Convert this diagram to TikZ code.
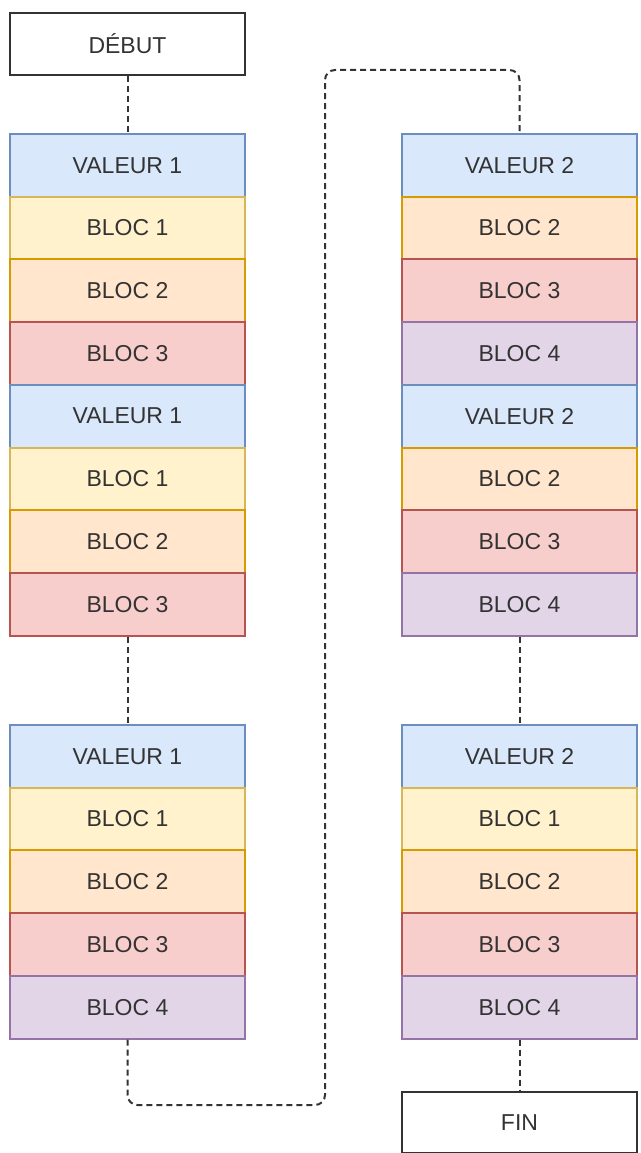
\documentclass[tikz,border=0pt]{standalone}
\usepackage{fontspec}
\setmainfont{Liberation Sans}
\definecolor{blueF}{HTML}{DAE8FC}\definecolor{blueD}{HTML}{6C8EBF}
\definecolor{yelF}{HTML}{FFF2CC}\definecolor{yelD}{HTML}{D6B656}
\definecolor{orgF}{HTML}{FFE6CC}\definecolor{orgD}{HTML}{D79B00}
\definecolor{redF}{HTML}{F8CECC}\definecolor{redD}{HTML}{B85450}
\definecolor{purF}{HTML}{E1D5E7}\definecolor{purD}{HTML}{9673A6}
\definecolor{ink}{HTML}{333333}
\tikzset{
  cell/.style={draw, line width=2pt, minimum width=235pt, minimum height=62.7pt,
    inner sep=0pt, text=ink, font=\fontsize{23}{26}\selectfont, anchor=north},
  valeur/.style={cell, fill=blueF, draw=blueD},
  blocA/.style={cell, fill=yelF, draw=yelD},
  blocB/.style={cell, fill=orgF, draw=orgD},
  blocC/.style={cell, fill=redF, draw=redD},
  blocD/.style={cell, fill=purF, draw=purD},
  term/.style={cell, fill=white, draw=ink, minimum height=62pt},
  link/.style={draw=ink, line width=2pt, dash pattern=on 6pt off 4pt}
}
\begin{document}
\begin{tikzpicture}[x=1pt,y=-1pt]
\useasboundingbox (0,0) rectangle (640,1153);
% start / end
\node[term] (debut) at (127.5,12) {DÉBUT};
\node[term, minimum height=60.5pt] (fin) at (519.5,1091) {FIN};
% left column, upper stack
\foreach \s/\t [count=\i] in {valeur/VALEUR 1,blocA/BLOC 1,blocB/BLOC 2,blocC/BLOC 3,
                              valeur/VALEUR 1,blocA/BLOC 1,blocB/BLOC 2,blocC/BLOC 3}
  \node[\s] (la\i) at (127.5,{133+62.7*(\i-1)}) {\t};
% left column, lower stack
\foreach \s/\t [count=\i] in {valeur/VALEUR 1,blocA/BLOC 1,blocB/BLOC 2,blocC/BLOC 3,blocD/BLOC 4}
  \node[\s] (lb\i) at (127.5,{724+62.7*(\i-1)}) {\t};
% right column, upper stack
\foreach \s/\t [count=\i] in {valeur/VALEUR 2,blocB/BLOC 2,blocC/BLOC 3,blocD/BLOC 4,
                              valeur/VALEUR 2,blocB/BLOC 2,blocC/BLOC 3,blocD/BLOC 4}
  \node[\s] (ra\i) at (519.5,{133+62.7*(\i-1)}) {\t};
% right column, lower stack
\foreach \s/\t [count=\i] in {valeur/VALEUR 2,blocA/BLOC 1,blocB/BLOC 2,blocC/BLOC 3,blocD/BLOC 4}
  \node[\s] (rb\i) at (519.5,{724+62.7*(\i-1)}) {\t};
% connectors
\coordinate (turnlow) at (325,1105);
\coordinate (turnhigh) at (325,70);
\draw[link] (debut.south) -- (la1.north);
\draw[link] (la8.south) -- (lb1.north);
\draw[link, rounded corners=10pt] (lb5.south) |- (turnlow) -- (turnhigh) -| (ra1.north);
\draw[link] (ra8.south) -- (rb1.north);
\draw[link] (rb5.south) -- (fin.north);
\end{tikzpicture}
\end{document}
